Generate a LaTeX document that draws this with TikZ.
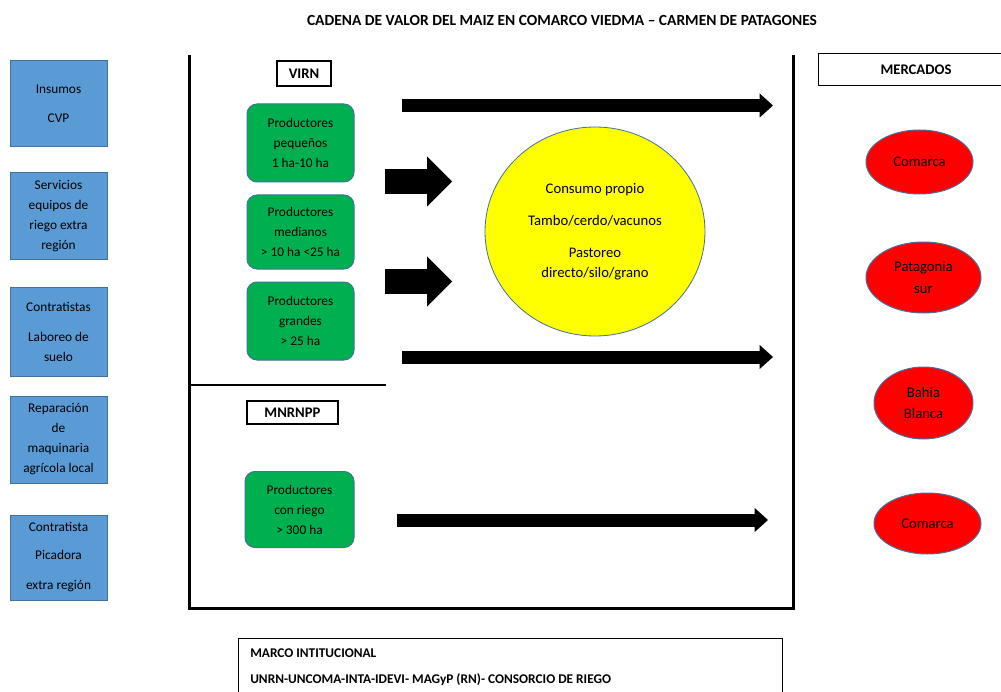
\documentclass[tikz,border=0pt]{standalone}
\usepackage{fontspec}
\setmainfont{Carlito}
\usetikzlibrary{arrows.meta,shapes.geometric}
\definecolor{boxblue}{HTML}{5B9BD5}
\definecolor{edgeblue}{HTML}{41719C}
\definecolor{boxgreen}{HTML}{00B050}
\definecolor{boxred}{HTML}{FF0000}
\definecolor{boxyellow}{HTML}{FFFF00}
\begin{document}
\begin{tikzpicture}[x=0.75pt,y=-0.75pt,
  every node/.style={font=\fontsize{10}{15}\selectfont, inner sep=0pt, align=center, text=black},
  insumobox/.style={draw=edgeblue, line width=0.75pt, fill=boxblue, minimum width=72.75pt},
  prodbox/.style={draw=edgeblue, line width=0.75pt, fill=boxgreen, rounded corners=7.5pt, minimum width=80.25pt},
  mktell/.style={ellipse, draw=edgeblue, line width=0.75pt, fill=boxred, font=\fontsize{11}{16}\selectfont},
  tagbox/.style={draw=black, line width=0.9pt, font=\fontsize{11}{13}\selectfont\bfseries},
  framepen/.style={line width=2.25pt},
  flowarrow/.style={line width=9.75pt, -{Triangle[length=10pt, width=18pt, line width=0pt]}},
  pusharrow/.style={line width=18.75pt, -{Triangle[length=18.75pt, width=37.5pt, line width=0pt]}},
]
\useasboundingbox (0,0) rectangle (1001,692);

% title
\node[font=\fontsize{11.6}{13}\selectfont\bfseries] (title) at (562,20) {CADENA DE VALOR DEL MAIZ EN COMARCO VIEDMA – CARMEN DE PATAGONES};

% left column
\node[insumobox, minimum height=64.5pt] (b1) at (58.5,104) {Insumos\\[6.75pt]CVP};
\node[insumobox, minimum height=64.5pt] (b2) at (58.5,216) {Servicios\\equipos de\\riego extra\\región};
\node[insumobox, minimum height=66.75pt] (b3) at (58.5,331.5) {Contratistas\\[7.5pt]Laboreo de\\suelo};
\node[insumobox, minimum height=65.25pt] (b4) at (58.5,439.5) {Reparación\\de\\maquinaria\\agrícola local};
\node[insumobox, minimum height=63.75pt] (b5) at (58.5,557.5) {Contratista\\[6pt]Picadora\\[7.5pt]extra región};

% main frame
\coordinate (ftl) at (189,55);
\coordinate (fbl) at (189,608.5);
\coordinate (fbr) at (793,608.5);
\coordinate (ftr) at (793,55);
\draw[framepen] (ftl) -- (fbl) -- (fbr) -- (ftr);
\coordinate (sepl) at (189,385);
\coordinate (sepr) at (386,385);
\draw[line width=1.5pt] (sepl) -- (sepr);

% tags
\node[tagbox, minimum width=40.5pt, minimum height=18.75pt] (virn) at (304,73.5) {VIRN};
\node[tagbox, minimum width=68.25pt, minimum height=17.25pt] (mnrnpp) at (292.5,412.5) {MNRNPP};
\node[tagbox, line width=0.75pt, minimum width=147pt, minimum height=24pt] (mercados) at (916,70) {MERCADOS};

% producers
\node[prodbox, minimum height=58.5pt] (p1) at (300.5,143) {Productores\\pequeños\\1 ha-10 ha};
\node[prodbox, minimum height=55.5pt] (p2) at (300.5,232) {Productores\\medianos\\> 10 ha <25 ha};
\node[prodbox, minimum height=58.5pt] (p3) at (300.5,321) {Productores\\grandes\\> 25 ha};
\node[prodbox, minimum width=81.75pt, minimum height=57pt] (p4) at (299.5,509.5) {Productores\\con riego\\> 300 ha};

% own consumption
\node[ellipse, draw=edgeblue, line width=0.6pt, fill=boxyellow, minimum width=165pt, minimum height=156.75pt,
      font=\fontsize{11}{15}\selectfont] (cons) at (595,231.5)
  {Consumo propio\\[9pt]Tambo/cerdo/vacunos\\[9pt]Pastoreo\\directo/silo/grano};

% markets
\node[mktell, minimum width=80.25pt, minimum height=48pt] (m1) at (919.5,162) {Comarca};
\node[mktell, minimum width=86.25pt, minimum height=53.25pt] (m2) at (923.5,277.5) {Patagonia\\sur};
\node[mktell, minimum width=74.25pt, minimum height=54pt] (m3) at (923.5,403) {Bahía\\Blanca};
\node[mktell, minimum width=80.25pt, minimum height=45.75pt] (m4) at (927.5,523.5) {Comarca};

% arrows
\coordinate (a1s) at (402,105.5);
\coordinate (a1e) at (773,105.5);
\coordinate (a2s) at (402,357);
\coordinate (a2e) at (773,357);
\coordinate (a3s) at (397,520);
\coordinate (a3e) at (768,520);
\draw[flowarrow] (a1s) -- (a1e);
\draw[flowarrow] (a2s) -- (a2e);
\draw[flowarrow] (a3s) -- (a3e);
\coordinate (f1s) at (385,181.5);
\coordinate (f1e) at (452,181.5);
\coordinate (f2s) at (385,281.5);
\coordinate (f2e) at (452,281.5);
\draw[pusharrow] (f1s) -- (f1e);
\draw[pusharrow] (f2s) -- (f2e);

% institutional frame
\node[draw=black, line width=0.75pt, minimum width=408pt, minimum height=60pt, anchor=north west] (marco) at (238,638) {};
\node[anchor=base west, font=\fontsize{10}{12}\selectfont\bfseries] (marcot) at (250,657) {MARCO INTITUCIONAL};
\node[anchor=base west, font=\fontsize{10}{12}\selectfont\bfseries] (marcol) at (250,683.5) {UNRN-UNCOMA-INTA-IDEVI- MAGyP (RN)- CONSORCIO DE RIEGO};
\end{tikzpicture}
\end{document}
